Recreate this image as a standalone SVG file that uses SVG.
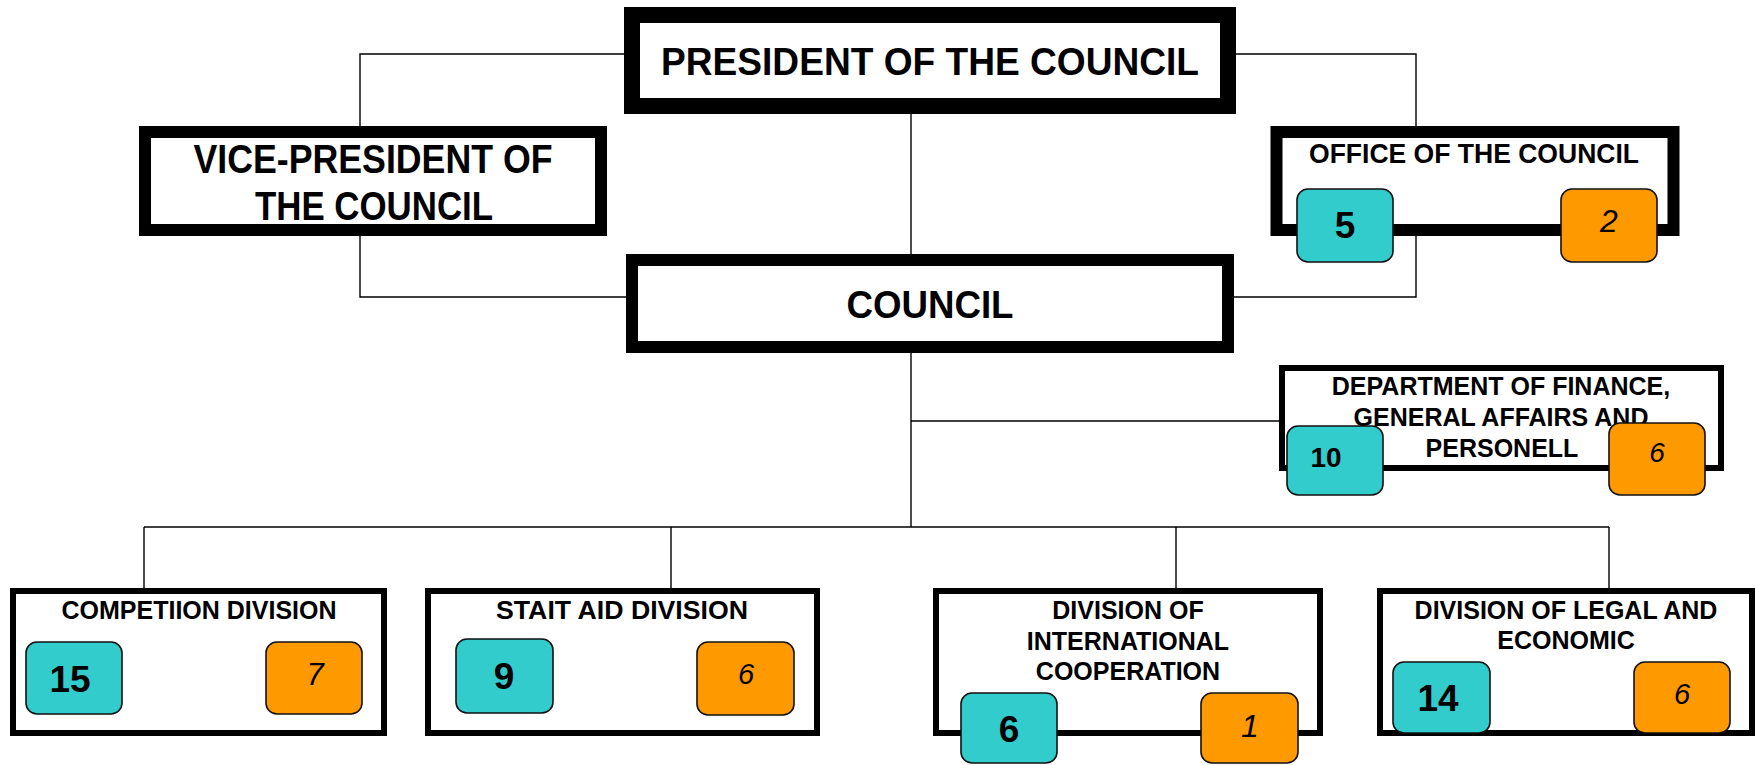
<svg xmlns="http://www.w3.org/2000/svg" width="1756" height="765" viewBox="0 0 1756 765">
<style>
.bg{fill:#ffffff}
.box{fill:#ffffff;stroke:#000000}
.thick{stroke-width:16}
.mid{stroke-width:12}
.thin{stroke-width:6}
.conn{fill:none;stroke:#000000;stroke-width:1.4}
.t{font-family:"Liberation Sans",Arial,sans-serif;font-weight:bold;fill:#000000;text-anchor:middle}
.cy{fill:#33CCCC;stroke:#111111;stroke-width:1.6}
.or{fill:#FF9900;stroke:#111111;stroke-width:1.6}
.nb{font-family:"Liberation Sans",Arial,sans-serif;font-weight:bold;fill:#000000;text-anchor:middle;font-size:37px}
.ni{font-family:"Liberation Sans",Arial,sans-serif;font-style:italic;fill:#000000;text-anchor:middle;font-size:31px}
</style>
<rect class="bg" x="0" y="0" width="1756" height="765"/>
<g id="connectors">
<polyline class="conn" points="624,54 360,54 360,126"/>
<polyline class="conn" points="360,236 360,297 626,297"/>
<polyline class="conn" points="1236,54 1416,54 1416,127"/>
<polyline class="conn" points="1416,236 1416,297 1234,297"/>
<line class="conn" x1="911" y1="113" x2="911" y2="254"/>
<line class="conn" x1="911" y1="353" x2="911" y2="527"/>
<line class="conn" x1="911" y1="421" x2="1279" y2="421"/>
<line class="conn" x1="144" y1="527" x2="1609" y2="527"/>
<line class="conn" x1="144" y1="527" x2="144" y2="588"/>
<line class="conn" x1="671" y1="527" x2="671" y2="588"/>
<line class="conn" x1="1176" y1="527" x2="1176" y2="588"/>
<line class="conn" x1="1609" y1="527" x2="1609" y2="588"/>
</g>
<g id="president">
<rect class="box thick" x="632" y="15" width="596" height="91"/>
<text class="t" x="930" y="75" font-size="39" textLength="538" lengthAdjust="spacingAndGlyphs">PRESIDENT OF THE COUNCIL</text>
</g>
<g id="vice-president">
<rect class="box mid" x="145" y="132" width="456" height="98"/>
<text class="t" x="373" y="173" font-size="40" textLength="359" lengthAdjust="spacingAndGlyphs">VICE-PRESIDENT OF</text>
<text class="t" x="374" y="220" font-size="40" textLength="238" lengthAdjust="spacingAndGlyphs">THE COUNCIL</text>
</g>
<g id="office">
<rect class="box mid" x="1276.5" y="132" width="397" height="98"/>
<text class="t" x="1474" y="163" font-size="27" textLength="330" lengthAdjust="spacingAndGlyphs">OFFICE OF THE COUNCIL</text>
<rect class="cy" x="1297" y="189" width="96" height="73" rx="11"/>
<text class="nb" x="1345" y="238" font-size="36">5</text>
<rect class="or" x="1561" y="189" width="96" height="73" rx="11"/>
<text class="ni" x="1609" y="232" style="font-size:32px">2</text>
</g>
<g id="council">
<rect class="box mid" x="632" y="260" width="596" height="87"/>
<text class="t" x="930" y="318" font-size="38" textLength="167" lengthAdjust="spacingAndGlyphs">COUNCIL</text>
</g>
<g id="department">
<rect class="box thin" x="1282" y="368" width="439" height="100"/>
<text class="t" x="1501" y="395" font-size="25">DEPARTMENT OF FINANCE,</text>
<text class="t" x="1501" y="426" font-size="25">GENERAL AFFAIRS AND</text>
<text class="t" x="1502" y="457" font-size="25">PERSONELL</text>
<rect class="cy" x="1287" y="426" width="96" height="69" rx="11"/>
<text class="nb" x="1326" y="467" style="font-size:28px">10</text>
<rect class="or" x="1609" y="423" width="96" height="72" rx="11"/>
<text class="ni" x="1657" y="462" style="font-size:28px">6</text>
</g>
<g id="competition">
<rect class="box thin" x="13" y="591" width="371" height="142"/>
<text class="t" x="199" y="619" font-size="25">COMPETIION DIVISION</text>
<rect class="cy" x="26" y="642" width="96" height="72" rx="11"/>
<text class="nb" x="70" y="692">15</text>
<rect class="or" x="266" y="642" width="96" height="72" rx="11"/>
<text class="ni" x="315" y="685">7</text>
</g>
<g id="state-aid">
<rect class="box thin" x="428" y="591" width="389" height="142"/>
<text class="t" x="622" y="619" font-size="25" textLength="252" lengthAdjust="spacingAndGlyphs">STAIT AID DIVISION</text>
<rect class="cy" x="456" y="639" width="97" height="74" rx="11"/>
<text class="nb" x="504" y="689">9</text>
<rect class="or" x="697" y="642" width="97" height="73" rx="11"/>
<text class="ni" x="746" y="684" style="font-size:29px">6</text>
</g>
<g id="international">
<rect class="box thin" x="936" y="591" width="384" height="142"/>
<text class="t" x="1128" y="619" font-size="25">DIVISION OF</text>
<text class="t" x="1128" y="650" font-size="25">INTERNATIONAL</text>
<text class="t" x="1128" y="680" font-size="25">COOPERATION</text>
<rect class="cy" x="961" y="693" width="96" height="70" rx="11"/>
<text class="nb" x="1009" y="742">6</text>
<rect class="or" x="1201" y="693" width="97" height="70" rx="11"/>
<text class="ni" x="1250" y="737" style="font-size:32px">1</text>
</g>
<g id="legal">
<rect class="box thin" x="1380" y="591" width="372" height="142"/>
<text class="t" x="1566" y="619" font-size="25">DIVISION OF LEGAL AND</text>
<text class="t" x="1566" y="649" font-size="25">ECONOMIC</text>
<rect class="cy" x="1393" y="662" width="97" height="71" rx="11"/>
<text class="nb" x="1438" y="711">14</text>
<rect class="or" x="1634" y="662" width="96" height="71" rx="11"/>
<text class="ni" x="1682" y="704" style="font-size:29px">6</text>
</g>
</svg>
